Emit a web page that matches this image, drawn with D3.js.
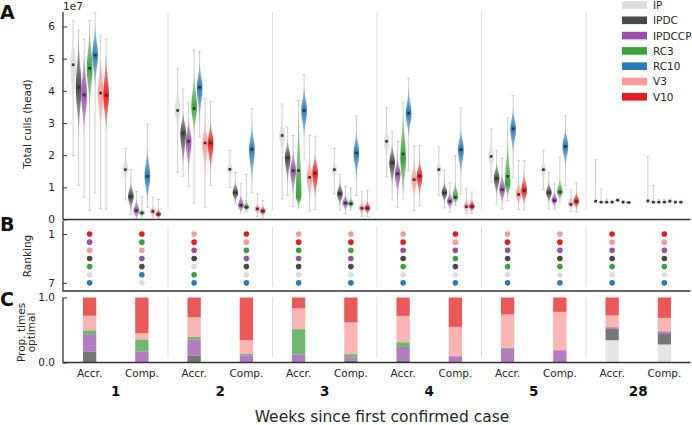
<!DOCTYPE html>
<html>
<head>
<meta charset="utf-8">
<script src="https://cdnjs.cloudflare.com/ajax/libs/d3/7.8.5/d3.min.js"></script>
<style>
body { margin: 0; background: #fff; }
svg { font-family: "DejaVu Sans", sans-serif; }
</style>
</head>
<body>
<div id="chart"></div>
<script>
var weeks = ["1", "2", "3", "4", "5", "28"];
var policies = ["Accr.", "Comp."];
var strategies = ["IP", "IPDC", "IPDCCP", "RC3", "RC10", "V3", "V10"];
var colors = ["#dcdcdc", "#4a4a4a", "#9b4fab", "#3ca33c", "#2b7bba", "#fb9a9a", "#e3201f"];

// rows: w1 Accr, w1 Comp, w2 Accr, w2 Comp ... w28 Comp ; columns follow strategies ; units 1e7 head
var medians = [
  [4.81, 4.11, 3.87, 4.70, 5.11, 3.93, 3.86],
  [1.55, 0.71, 0.28, 0.20, 1.34, 0.25, 0.16],
  [3.39, 2.69, 2.43, 3.45, 4.11, 2.38, 2.38],
  [1.56, 0.83, 0.44, 0.38, 2.18, 0.33, 0.26],
  [2.61, 1.92, 1.52, 1.52, 3.39, 1.31, 1.44],
  [1.55, 0.80, 0.51, 0.49, 2.07, 0.35, 0.35],
  [2.43, 1.76, 1.42, 2.04, 3.31, 1.24, 1.35],
  [1.55, 0.83, 0.56, 0.69, 2.17, 0.40, 0.40],
  [1.96, 1.28, 0.93, 1.34, 2.82, 0.78, 0.90],
  [1.55, 0.83, 0.59, 0.85, 2.27, 0.47, 0.56],
  [0.57, 0.54, 0.54, 0.54, 0.60, 0.54, 0.53],
  [0.58, 0.54, 0.54, 0.54, 0.57, 0.54, 0.54]
];
var whiskerMax = [
  [6.18, 5.89, 5.61, 6.18, 6.44, 5.71, 5.61],
  [2.21, 1.55, 0.87, 0.72, 2.96, 0.69, 0.62],
  [4.70, 4.06, 3.64, 5.27, 5.23, 3.77, 3.67],
  [2.14, 1.46, 1.11, 1.40, 3.44, 0.80, 0.59],
  [3.59, 2.85, 2.61, 3.70, 4.50, 2.61, 2.59],
  [2.21, 1.40, 1.03, 0.98, 3.22, 0.86, 0.90],
  [3.47, 2.72, 2.42, 3.64, 4.40, 2.29, 2.30],
  [2.25, 1.53, 1.14, 1.99, 3.47, 0.95, 0.85],
  [2.82, 2.14, 1.90, 3.16, 3.85, 1.83, 1.83],
  [2.16, 1.47, 1.11, 1.94, 3.23, 0.92, 1.14],
  [1.86, 0.95, 0.64, 0.60, 0.64, 0.60, 0.56],
  [1.96, 1.06, 0.61, 0.62, 0.64, 0.58, 0.56]
];
var whiskerMin = [
  [1.99, 1.06, 0.69, 0.28, 0.82, 0.34, 0.32],
  [0.61, 0.16, 0.00, 0.07, 0.38, 0.07, 0.02],
  [1.47, 1.35, 1.03, 0.49, 2.56, 0.38, 1.06],
  [1.00, 0.51, 0.18, 0.23, 0.83, 0.09, 0.07],
  [0.64, 0.75, 0.41, 0.36, 1.85, 0.26, 0.31],
  [0.80, 0.30, 0.18, 0.30, 0.75, 0.09, 0.09],
  [1.34, 0.61, 0.38, 0.64, 1.52, 0.28, 0.43],
  [0.75, 0.36, 0.23, 0.43, 0.80, 0.18, 0.18],
  [1.16, 0.46, 0.33, 0.59, 1.31, 0.31, 0.30],
  [0.93, 0.35, 0.32, 0.54, 1.06, 0.25, 0.23],
  [0.52, 0.52, 0.52, 0.52, 0.55, 0.52, 0.52],
  [0.52, 0.52, 0.52, 0.52, 0.54, 0.52, 0.52]
];
// visible extent of each violin body
var violinTop = [
  [6.0, 5.7, 5.3, 6.0, 6.1, 5.2, 5.2],
  [2.0, 1.2, 0.65, 0.35, 2.3, 0.45, 0.35],
  [4.3, 3.4, 3.2, 4.6, 4.9, 3.1, 3.1],
  [1.9, 1.2, 0.8, 0.6, 3.0, 0.55, 0.45],
  [3.2, 2.5, 2.2, 3.5, 4.2, 2.0, 2.1],
  [1.9, 1.2, 0.8, 0.7, 2.8, 0.6, 0.6],
  [3.0, 2.4, 2.0, 3.4, 4.1, 1.8, 1.9],
  [1.9, 1.2, 0.9, 1.2, 2.9, 0.7, 0.65],
  [2.5, 1.8, 1.5, 2.6, 3.5, 1.3, 1.5],
  [1.9, 1.2, 0.9, 1.3, 2.9, 0.75, 0.9],
  [0.61, 0.58, 0.58, 0.58, 0.64, 0.58, 0.57],
  [0.62, 0.58, 0.58, 0.58, 0.61, 0.58, 0.58]
];
var violinBottom = [
  [3.3, 2.6, 2.6, 3.4, 4.1, 2.7, 2.7],
  [1.1, 0.25, 0.0, 0.08, 0.5, 0.08, 0.03],
  [2.6, 1.6, 1.4, 2.6, 3.0, 1.3, 1.4],
  [1.2, 0.5, 0.2, 0.25, 1.1, 0.12, 0.1],
  [1.9, 1.1, 0.7, 0.35, 2.5, 0.5, 0.6],
  [1.2, 0.4, 0.25, 0.33, 1.2, 0.12, 0.15],
  [1.8, 1.0, 0.7, 0.7, 2.5, 0.6, 0.7],
  [1.2, 0.5, 0.3, 0.45, 1.3, 0.2, 0.22],
  [1.4, 0.7, 0.45, 0.65, 2.0, 0.4, 0.4],
  [1.2, 0.5, 0.38, 0.58, 1.6, 0.3, 0.3],
  [0.53, 0.5, 0.5, 0.5, 0.56, 0.5, 0.49],
  [0.54, 0.5, 0.5, 0.5, 0.53, 0.5, 0.5]
];
// [row, strategy, value] where the violin is widest away from the median
var violinPeak = [[2, 3, 3.5], [4, 3, 0.7], [6, 3, 1.9], [8, 3, 1.1]];

// ranking 1 -> 7 for each row
var rankings = [
  ["V10", "IPDCCP", "V3", "IPDC", "RC3", "IP", "RC10"],
  ["V10", "RC3", "V3", "IPDCCP", "IPDC", "RC10", "IP"],
  ["V3", "V10", "IPDCCP", "IPDC", "IP", "RC3", "RC10"],
  ["V10", "V3", "RC3", "IPDCCP", "IPDC", "IP", "RC10"],
  ["V3", "V10", "RC3", "IPDCCP", "IPDC", "IP", "RC10"],
  ["V3", "V10", "RC3", "IPDCCP", "IPDC", "IP", "RC10"],
  ["V3", "V10", "IPDCCP", "IPDC", "RC3", "IP", "RC10"],
  ["V10", "V3", "IPDCCP", "RC3", "IPDC", "IP", "RC10"],
  ["V3", "V10", "IPDCCP", "IPDC", "RC3", "IP", "RC10"],
  ["V3", "V10", "IPDCCP", "IPDC", "RC3", "IP", "RC10"],
  ["V10", "V3", "IPDCCP", "IPDC", "RC3", "IP", "RC10"],
  ["V10", "V3", "IPDCCP", "IPDC", "RC3", "IP", "RC10"]
];

// proportion of times optimal, columns follow strategies
var propOptimal = [
  [0, 0.17, 0.265, 0.06, 0, 0.225, 0.28],
  [0, 0, 0.17, 0.184, 0, 0.096, 0.55],
  [0, 0.107, 0.247, 0.04, 0, 0.303, 0.303],
  [0, 0, 0.11, 0.02, 0, 0.213, 0.657],
  [0, 0, 0.123, 0.39, 0, 0.322, 0.165],
  [0, 0.03, 0.05, 0.048, 0, 0.492, 0.38],
  [0, 0.03, 0.21, 0.072, 0, 0.405, 0.283],
  [0, 0, 0.097, 0, 0, 0.451, 0.452],
  [0, 0.01, 0.2, 0.015, 0, 0.513, 0.262],
  [0, 0, 0.189, 0, 0, 0.59, 0.221],
  [0.343, 0.174, 0.026, 0, 0, 0.18, 0.277],
  [0.277, 0.173, 0.03, 0, 0, 0.206, 0.314]
];

var width = 692, height = 425;
var left = 63.5, right = 690.5;
var spineX = 63;
var textColor = '#262626';

var svg = d3.select('#chart')
    .append('svg')
    .attr('width', width)
    .attr('height', height);
var defs = svg.append('defs');

var x = d3.scaleBand().domain(weeks).range([left, right]);
var xPol = d3.scalePoint().domain(policies).range([0, x.bandwidth()]).padding(0.5);
var xStrat = d3.scalePoint().domain(strategies).range([-16.5, 16.5]);
var color = d3.scaleOrdinal().domain(strategies).range(colors);

var yA = d3.scaleLinear().domain([0, 6.45]).range([219.5, 12]);
var yB = d3.scaleLinear().domain([-0.6, 8]).range([221, 291]);
var yC = d3.scaleLinear().domain([0, 1]).range([362.5, 297.5]);

// center of a week/policy row
function rowX(k) {
    return x(weeks[Math.floor(k / 2)]) + xPol(policies[k % 2]);
}
var rows = d3.range(weeks.length * policies.length);

// separators between weeks
var sepWeeks = weeks.slice(1);
[[12, 210], [226, 287], [297, 358]].forEach(function(r) {
    svg.append('g').selectAll('line')
        .data(sepWeeks).enter().append('line')
        .attr('x1', function(d) { return x(d); })
        .attr('x2', function(d) { return x(d); })
        .attr('y1', r[0]).attr('y2', r[1])
        .attr('stroke', '#dedede').attr('stroke-width', 1);
});

// ---- panel A: violins
var violins = [];
rows.forEach(function(k) {
    strategies.forEach(function(s, j) {
        var peak = medians[k][j];
        violinPeak.forEach(function(p) { if (p[0] === k && p[1] === j) peak = p[2]; });
        violins.push({
            k: k, j: j, s: s,
            cx: rowX(k) + xStrat(s),
            med: medians[k][j], lo: whiskerMin[k][j], hi: whiskerMax[k][j],
            top: violinTop[k][j], bot: violinBottom[k][j], peak: peak
        });
    });
});

var hw = 2.8;
function violinShape(d) {
    var pts = [];
    var n = 40;
    for (var i = 0; i <= n; i++) {
        var v = d.bot + (d.top - d.bot) * i / n;
        var span = v < d.peak ? (d.peak - d.bot) : (d.top - d.peak);
        var t = span > 0 ? (v - d.peak) / span : 0;
        pts.push({v: v, w: hw * Math.exp(-3 * t * t)});
    }
    return pts;
}
var area = d3.area()
    .y(function(p) { return yA(p.v); })
    .curve(d3.curveBasis);

var gA = svg.append('g').attr('class', 'violins');

// whiskers
gA.selectAll('line.wh')
    .data(violins).enter().append('line')
    .attr('class', 'wh')
    .attr('x1', function(d) { return d.cx; })
    .attr('x2', function(d) { return d.cx; })
    .attr('y1', function(d) { return yA(d.lo); })
    .attr('y2', function(d) { return yA(d.hi); })
    .attr('stroke', '#cfcfcf').attr('stroke-width', 1);
gA.selectAll('path.cap')
    .data(violins).enter().append('path')
    .attr('class', 'cap')
    .attr('d', function(d) {
        return 'M' + (d.cx - 1.5) + ',' + yA(d.hi) + 'H' + (d.cx + 1.5) +
            'M' + (d.cx - 1.5) + ',' + yA(d.lo) + 'H' + (d.cx + 1.5);
    })
    .attr('stroke', '#cfcfcf').attr('stroke-width', 1);

// gradients so the tails fade
violins.forEach(function(d, i) {
    var y1 = yA(d.top), y2 = yA(d.bot);
    var off = y2 > y1 ? (yA(d.peak) - y1) / (y2 - y1) : 0.5;
    var g = defs.append('linearGradient')
        .attr('id', 'vg' + i)
        .attr('gradientUnits', 'userSpaceOnUse')
        .attr('x1', 0).attr('x2', 0).attr('y1', y1).attr('y2', y2 + 0.01);
    g.append('stop').attr('offset', 0).attr('stop-color', color(d.s)).attr('stop-opacity', 0.1);
    g.append('stop').attr('offset', off).attr('stop-color', color(d.s)).attr('stop-opacity', 1);
    g.append('stop').attr('offset', 1).attr('stop-color', color(d.s)).attr('stop-opacity', 0.1);
});

gA.selectAll('path.body')
    .data(violins).enter().append('path')
    .attr('class', 'body')
    .attr('d', function(d) {
        return area.x0(function(p) { return d.cx - p.w; })
            .x1(function(p) { return d.cx + p.w; })(violinShape(d));
    })
    .attr('fill', function(d, i) { return 'url(#vg' + i + ')'; });

// medians
gA.selectAll('rect.med')
    .data(violins).enter().append('rect')
    .attr('class', 'med')
    .attr('x', function(d) { return d.cx - 1.3; })
    .attr('y', function(d) { return yA(d.med) - 1.3; })
    .attr('width', 2.6).attr('height', 2.6)
    .attr('fill', '#333');

// ---- panel B: ranking dots
var dots = [];
rows.forEach(function(k) {
    rankings[k].forEach(function(s, r) { dots.push({k: k, s: s, rank: r + 1}); });
});
svg.append('g').selectAll('circle')
    .data(dots).enter().append('circle')
    .attr('cx', function(d) { return rowX(d.k); })
    .attr('cy', function(d) { return yB(d.rank); })
    .attr('r', 2.8)
    .attr('fill', function(d) { return color(d.s); });

// ---- panel C: stacked bars
var table = propOptimal.map(function(r, k) {
    var o = {k: k};
    strategies.forEach(function(s, j) { o[s] = r[j]; });
    return o;
});
var stacked = d3.stack().keys(strategies)(table);
var barW = 13.3;
svg.append('g').selectAll('g')
    .data(stacked).enter().append('g')
    .attr('fill', function(d) { return color(d.key); })
    .attr('fill-opacity', 0.75)
    .selectAll('rect')
    .data(function(d) { return d; }).enter().append('rect')
    .attr('x', function(d) { return rowX(d.data.k) - barW / 2; })
    .attr('width', barW)
    .attr('y', function(d) { return yC(d[1]); })
    .attr('height', function(d) { return yC(d[0]) - yC(d[1]); });

// ---- axes
function styleAxis(g) {
    g.select('.domain').remove();
    g.selectAll('.tick line').attr('stroke', '#333').attr('stroke-width', 1);
    g.selectAll('.tick text').attr('fill', textColor).attr('font-size', '10.5px')
        .attr('font-family', '"DejaVu Sans", sans-serif');
}
svg.append('g').attr('transform', 'translate(' + spineX + ',0)')
    .call(d3.axisLeft(yA).tickValues([0, 1, 2, 3, 4, 5, 6]).tickFormat(d3.format('d'))
        .tickSizeInner(-4).tickSizeOuter(0).tickPadding(8))
    .call(styleAxis);
svg.append('g').attr('transform', 'translate(' + spineX + ',0)')
    .call(d3.axisLeft(yB).tickValues([1, 7]).tickFormat(d3.format('d'))
        .tickSizeInner(-4).tickSizeOuter(0).tickPadding(8))
    .call(styleAxis);
svg.append('g').attr('transform', 'translate(' + spineX + ',0)')
    .call(d3.axisLeft(yC).tickValues([0, 1]).tickFormat(d3.format('.1f'))
        .tickSizeInner(-4).tickSizeOuter(0).tickPadding(8))
    .call(styleAxis);

// spines
var spines = svg.append('g').attr('stroke', '#333').attr('stroke-width', 1.3).attr('fill', 'none');
spines.append('path').attr('d', 'M' + spineX + ',' + yA.range()[1] + 'V' + yA.range()[0] + 'H' + right);
spines.append('path').attr('d', 'M' + spineX + ',' + yB.range()[0] + 'V' + yB.range()[1] + 'H' + right);
spines.append('path').attr('d', 'M' + spineX + ',' + yC.range()[1] + 'V' + yC.range()[0] + 'H' + right);

// x labels
svg.append('g').selectAll('text')
    .data(rows).enter().append('text')
    .attr('x', function(k) { return rowX(k); })
    .attr('y', 376.5)
    .attr('text-anchor', 'middle')
    .attr('font-size', '10.5px')
    .attr('fill', textColor)
    .text(function(k) { return policies[k % 2]; });
svg.append('g').selectAll('text')
    .data(weeks).enter().append('text')
    .attr('x', function(d) { return x(d) + x.bandwidth() / 2; })
    .attr('y', 395.5)
    .attr('text-anchor', 'middle')
    .attr('font-size', '13.5px')
    .attr('font-weight', 'bold')
    .attr('fill', '#111')
    .text(function(d) { return d; });
svg.append('text')
    .attr('x', 382).attr('y', 422)
    .attr('text-anchor', 'middle')
    .attr('font-size', '15.5px')
    .attr('fill', textColor)
    .text('Weeks since first confirmed case');

// y titles
function yTitle(txt, cx, cy) {
    svg.append('text')
        .attr('transform', 'translate(' + cx + ',' + cy + ') rotate(-90)')
        .attr('text-anchor', 'middle')
        .attr('font-size', '10.5px')
        .attr('fill', textColor)
        .text(txt);
}
yTitle('Total culls (head)', 31, 124);
yTitle('Ranking', 31, 256);
yTitle('Prop. times', 25, 332.5);
yTitle('optimal', 35, 332.5);

svg.append('text').attr('x', 63).attr('y', 9.5)
    .attr('font-size', '10.5px').attr('fill', textColor).text('1e7');

// panel letters
[['A', 18.5], ['B', 230.5], ['C', 306]].forEach(function(l) {
    svg.append('text').attr('x', 0).attr('y', l[1])
        .attr('font-size', '19px').attr('font-weight', 'bold')
        .attr('fill', '#111').text(l[0]);
});

// legend
var legend = svg.append('g').selectAll('g')
    .data(strategies).enter().append('g')
    .attr('transform', function(d, i) { return 'translate(622,' + (5 + i * 15.3) + ')'; });
legend.append('rect')
    .attr('x', 0).attr('y', -3.8).attr('width', 25).attr('height', 7.6)
    .attr('fill', function(d) { return color(d); });
legend.append('text')
    .attr('x', 31).attr('y', 3.9)
    .attr('font-size', '10.5px').attr('fill', textColor)
    .text(function(d) { return d; });
</script>
</body>
</html>
